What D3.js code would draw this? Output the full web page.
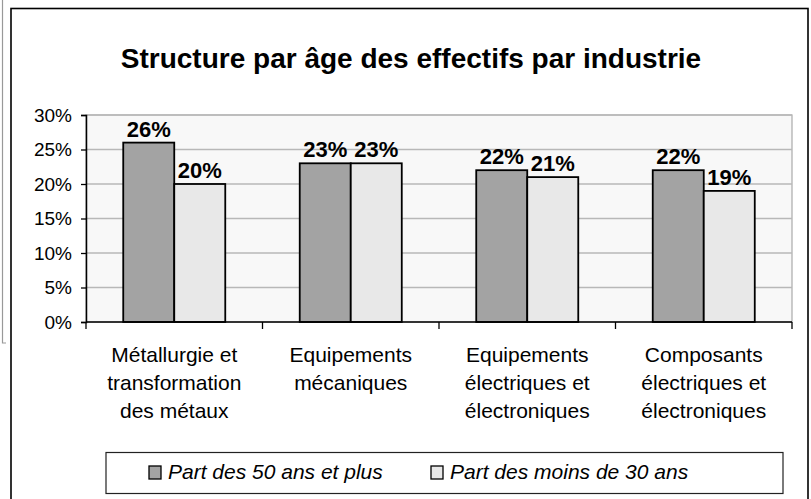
<!DOCTYPE html>
<html>
<head>
<meta charset="utf-8">
<script src="https://cdn.jsdelivr.net/npm/d3@7"></script>
<style>
  body { margin: 0; background: #fff; }
  text { font-family: Arial, "Liberation Sans", sans-serif; fill: #000; }
</style>
</head>
<body>
<svg id="chart" width="811" height="499"></svg>
<script>
// chart data
var categories = [
    "Métallurgie et|transformation|des métaux",
    "Equipements|mécaniques",
    "Equipements|électriques et|électroniques",
    "Composants|électriques et|électroniques"
]
var series = ["Part des 50 ans et plus", "Part des moins de 30 ans"]
var plus50 = [0.26, 0.23, 0.22, 0.22]
var moins30 = [0.20, 0.23, 0.21, 0.19]
var yTicks = [0, 0.05, 0.10, 0.15, 0.20, 0.25, 0.30]
var colors = ["#a3a3a3", "#e8e8e8"]

var svg = d3.select("#chart")

/* page remnant on the far left + outer frame */
svg.append("path")
    .attr("d", "M2.5,0V343H6")
    .attr("fill", "none").attr("stroke", "#999").attr("stroke-width", 1.2)
svg.append("rect")
    .attr("x", 11).attr("y", 8.5).attr("width", 797).attr("height", 520)
    .attr("fill", "#fff").attr("stroke", "#000").attr("stroke-width", 1.6)

svg.append("text")
    .attr("x", 411).attr("y", 68)
    .attr("text-anchor", "middle")
    .style("font-size", "28px").style("font-weight", "bold")
    .text("Structure par âge des effectifs par industrie")

var pLeft = 86, pRight = 792, pTop = 115, pBottom = 322

var x = d3.scaleBand().domain(categories).range([pLeft, pRight]).padding(0)
var xs = d3.scaleBand().domain(series).range([0, x.bandwidth()]).paddingOuter(0.73).paddingInner(0)
var y = d3.scaleLinear().domain([0, 0.30]).range([pBottom, pTop])

// plot area
svg.append("rect")
    .attr("x", pLeft).attr("y", pTop).attr("width", pRight - pLeft).attr("height", pBottom - pTop)
    .attr("fill", "#f8f8f8").attr("stroke", "#aaa").attr("stroke-width", 1.2)

svg.append("g").selectAll("line")
    .data(yTicks.slice(1))
    .enter().append("line")
    .attr("x1", pLeft).attr("x2", pRight)
    .attr("y1", d => y(d)).attr("y2", d => y(d))
    .attr("stroke", "#b8b8b8").attr("stroke-width", 1.3)

// bars
var rows = categories.map((c, i) => ({cat: c, vals: [plus50[i], moins30[i]]}))
var grp = svg.append("g").selectAll("g")
    .data(rows)
    .enter().append("g")
    .attr("transform", d => "translate(" + x(d.cat) + ",0)")

grp.selectAll("rect")
    .data(d => d.vals.map((v, j) => ({s: series[j], v: v, j: j})))
    .enter().append("rect")
    .attr("x", d => xs(d.s))
    .attr("y", d => y(d.v))
    .attr("width", xs.bandwidth())
    .attr("height", d => pBottom - y(d.v))
    .attr("fill", d => colors[d.j])
    .attr("stroke", "#000").attr("stroke-width", 1.8)

grp.selectAll("text")
    .data(d => d.vals.map((v, j) => ({s: series[j], v: v})))
    .enter().append("text")
    .attr("x", d => xs(d.s) + xs.bandwidth() / 2)
    .attr("y", d => y(d.v) - 6)
    .attr("text-anchor", "middle")
    .style("font-size", "22px").style("font-weight", "bold")
    .text(d => d3.format(".0%")(d.v))

// y axis
var yAxis = svg.append("g")
    .attr("transform", "translate(" + pLeft + ",0)")
    .call(d3.axisLeft(y).tickValues(yTicks).tickFormat(d3.format(".0%")).tickSize(5).tickPadding(9))
yAxis.select(".domain").attr("stroke", "#000").attr("stroke-width", 1.5)
yAxis.selectAll(".tick line").attr("stroke", "#000").attr("stroke-width", 1.3)
yAxis.selectAll(".tick text").style("font-size", "19px").attr("font-family", null)

// x axis
var xAxis = svg.append("g")
    .attr("transform", "translate(0," + pBottom + ")")
    .call(d3.axisBottom(x).tickSize(0).tickFormat(""))
xAxis.select(".domain").attr("d", "M" + pLeft + ",0H" + pRight).attr("stroke", "#000").attr("stroke-width", 1.5)
xAxis.selectAll(".tick").remove()
xAxis.selectAll("line.sep")
    .data(categories.concat(["end"]))
    .enter().append("line")
    .attr("x1", (d, i) => pLeft + i * x.step()).attr("x2", (d, i) => pLeft + i * x.step())
    .attr("y1", 0).attr("y2", 7)
    .attr("stroke", "#000").attr("stroke-width", 1.3)

svg.append("g").selectAll("text")
    .data(categories)
    .enter().append("text")
    .attr("x", d => x(d) + x.bandwidth() / 2)
    .attr("y", 362)
    .attr("text-anchor", "middle")
    .style("font-size", "21px")
    .each(function(d) {
        var t = d3.select(this)
        d.split("|").forEach((line, k) => {
            t.append("tspan").attr("x", x(d) + x.bandwidth() / 2).attr("dy", k == 0 ? 0 : 28).text(line)
        })
    })

// legend
svg.append("rect")
    .attr("x", 106).attr("y", 452.5).attr("width", 677).attr("height", 41)
    .attr("fill", "#fff").attr("stroke", "#222").attr("stroke-width", 1.2)
var legX = [149, 431]
var leg = svg.append("g").selectAll("g")
    .data(series)
    .enter().append("g")
    .attr("transform", (d, i) => "translate(" + legX[i] + ",0)")
leg.append("rect")
    .attr("x", 0).attr("y", 466).attr("width", 12).attr("height", 13)
    .attr("fill", (d, i) => colors[i]).attr("stroke", "#000").attr("stroke-width", 1.3)
leg.append("text")
    .attr("x", 19).attr("y", 479)
    .style("font-size", "21px").style("font-style", "italic")
    .text(d => d)
</script>
</body>
</html>
